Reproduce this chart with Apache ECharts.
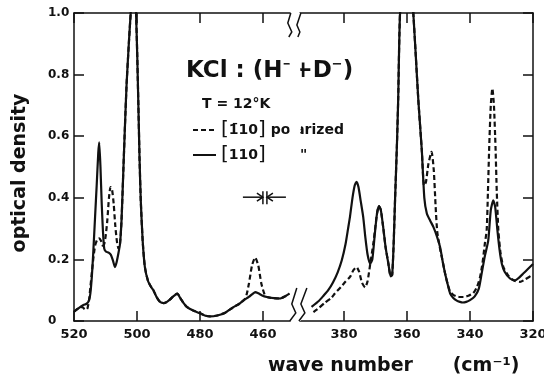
<!DOCTYPE html>
<html>
<head>
<meta charset="utf-8">
<script src="https://cdn.jsdelivr.net/npm/echarts@6/dist/echarts.min.js"></script>
<style>
  html, body { margin: 0; background: #fff; }
  #chart { width: 544px; height: 385px; }
</style>
</head>
<body>
<div id="chart"></div>
<script>
// [110] solid curve, left part (cm-1, optical density)
const solidLeftX = [520, 518.5, 517, 516, 515.3, 514.8, 514.3, 513.9, 513.3, 512.8, 512.3, 512.0, 511.6, 511.2, 510.8, 510.4,
  509.8, 509.0, 508.3, 507.6, 507.0, 506.5, 505.9, 505.4, 504.9, 504.3, 503.8, 503.3, 502.6, 502.0, 501.2, 500.3, 499.6,
  499.2, 498.8, 498.2, 497.5, 496.5, 495.5, 494.8, 493.8, 492.7, 491.5, 490.5, 489.5, 488.5, 487.2, 486.3, 485.2, 484.2,
  482, 480, 478.5, 476.8, 474.5, 472, 469.4, 467.5, 466.2, 464.5, 463.2, 462.5, 461.5, 460.3, 458.8, 456.5, 454.6, 453, 451.6]
const solidLeftY = [0.03, 0.042, 0.052, 0.056, 0.065, 0.09, 0.15, 0.22, 0.34, 0.44, 0.545, 0.58, 0.5, 0.38, 0.29, 0.235,
  0.225, 0.222, 0.215, 0.195, 0.175, 0.19, 0.22, 0.25, 0.33, 0.5, 0.64, 0.77, 0.9, 1.0, 1.12, 1.0, 0.717,
  0.53, 0.39, 0.26, 0.175, 0.13, 0.11, 0.1, 0.078, 0.062, 0.058, 0.062, 0.07, 0.08, 0.089, 0.075, 0.058, 0.046,
  0.033, 0.025, 0.018, 0.015, 0.018, 0.027, 0.045, 0.056, 0.067, 0.078, 0.089, 0.094, 0.09, 0.083, 0.078, 0.074, 0.073, 0.08, 0.089]

// [-110] polarized, dashed curve, left part
const dashedLeftX = [520, 518.5, 517.5, 516.8, 516.2, 515.7, 515.2, 514.8, 514.3, 513.9, 513.3, 512.6, 512.0, 511.4, 510.9,
  510.4, 509.9, 509.4, 508.9, 508.4, 507.9, 507.4, 506.9, 506.4, 505.9, 505.4, 504.9, 504.3, 503.8, 503.3, 502.6, 502.0,
  501.2, 500.3, 499.6, 499.2, 498.8, 498.2, 497.5, 496.5, 495.5, 494.8, 493.8, 492.7, 491.5, 490.5, 489.5, 488.5, 487.2,
  486.3, 485.2, 484.2, 482, 480, 478.5, 476.8, 474.5, 472, 469.4, 467.5, 465.6, 464.5, 463.5, 462.5, 461.5, 460.5, 459.4,
  458.8, 456.5, 454.6, 453, 451.6]
const dashedLeftY = [0.03, 0.042, 0.046, 0.04, 0.036, 0.042, 0.07, 0.11, 0.16, 0.2, 0.245, 0.265, 0.268, 0.26, 0.245,
  0.25, 0.28, 0.33, 0.4, 0.435, 0.425, 0.38, 0.31, 0.26, 0.235, 0.25, 0.33, 0.5, 0.64, 0.77, 0.9, 1.0,
  1.12, 1.0, 0.717, 0.53, 0.39, 0.26, 0.175, 0.13, 0.11, 0.1, 0.078, 0.062, 0.058, 0.062, 0.07, 0.08, 0.089,
  0.075, 0.058, 0.046, 0.033, 0.025, 0.018, 0.015, 0.018, 0.027, 0.045, 0.056, 0.073, 0.12, 0.18, 0.206, 0.18, 0.12, 0.083,
  0.078, 0.074, 0.073, 0.08, 0.089]

// right part (after the axis break)
const solidRightX = [390.3, 388, 386.5, 385, 383.5, 382, 380.7, 379.5, 378.7, 378.1, 377.3, 376.6, 376.0, 375.4, 374.7,
  373.9, 373.2, 372.5, 371.7, 371.0, 370.2, 369.5, 368.9, 368.3, 367.5, 366.8, 365.9, 365.2, 364.7, 364.2, 363.8, 363.2,
  362.8, 362.2, 360.1, 358.0, 357.2, 356.4, 355.3, 354.5, 353.7, 352.6, 351.6, 350.5, 349.5, 348.7, 347.9, 347.1, 346.3,
  345.3, 344.2, 343.2, 342.3, 341.2, 340.0, 338.5, 337.2, 336.3, 335.3, 334.2, 333.4, 332.6, 332.0, 331.3, 330.6, 329.9,
  329, 327.3, 325.7, 324.5, 323.1, 321.7, 320]
const solidRightY = [0.046, 0.065, 0.082, 0.1, 0.125, 0.158, 0.197, 0.25, 0.3, 0.338, 0.4, 0.44, 0.452, 0.435, 0.39,
  0.338, 0.27, 0.215, 0.186, 0.2, 0.284, 0.35, 0.373, 0.36, 0.3, 0.24, 0.186, 0.145, 0.15, 0.26, 0.39, 0.57,
  0.717, 1.0, 1.3, 1.0, 0.86, 0.717, 0.555, 0.4, 0.349, 0.325, 0.305, 0.275, 0.24, 0.195, 0.154, 0.12, 0.089,
  0.075, 0.066, 0.062, 0.06, 0.062, 0.068, 0.08, 0.105, 0.154, 0.21, 0.262, 0.36, 0.392, 0.37, 0.295, 0.23, 0.186,
  0.16, 0.138, 0.132, 0.14, 0.154, 0.168, 0.185]

const dashedRightX = [389.7, 388, 386, 384, 382.9, 381, 379.5, 378.1, 377, 376, 375.2, 374.3, 373.3, 372.5, 371.6, 370.7,
  370.0, 369.5, 368.9, 368.3, 367.5, 366.8, 365.9, 365.2, 364.7, 364.2, 363.8, 363.2, 362.8, 362.2, 360.1, 358.0, 357.2,
  356.4, 355.3, 354.6, 354.0, 353.2, 352.2, 351.5, 350.9, 350.4, 349.6, 348.7, 347.9, 347.1, 346.3, 345.3, 344.2, 343.2,
  342, 340.5, 339, 337.8, 336.8, 336, 335.3, 334.7, 334.3, 333.9, 333.4, 332.9, 332.4, 331.9, 331.5, 331.0, 330.3, 329.4,
  328, 326.2, 324.1, 322.5, 320.4, 320]
const dashedRightY = [0.029, 0.042, 0.06, 0.075, 0.089, 0.11, 0.128, 0.143, 0.165, 0.175, 0.16, 0.125, 0.109, 0.13, 0.19, 0.25,
  0.31, 0.35, 0.373, 0.36, 0.3, 0.24, 0.186, 0.145, 0.15, 0.26, 0.39, 0.57, 0.717, 1.0, 1.3, 1.0, 0.86,
  0.717, 0.555, 0.44, 0.45, 0.51, 0.549, 0.49, 0.37, 0.29, 0.24, 0.195, 0.154, 0.12, 0.095, 0.085, 0.08, 0.078,
  0.078, 0.082, 0.09, 0.11, 0.143, 0.19, 0.25, 0.295, 0.42, 0.565, 0.7, 0.755, 0.7, 0.565, 0.42, 0.295, 0.22, 0.175,
  0.15, 0.132, 0.127, 0.135, 0.148, 0.15]

const xTicks = [520, 500, 480, 460, 380, 360, 340, 320]
const breakStart = 394
const breakEnd = 451.5
const polName = '[1\u0304 10] polarized'
const refName = '[110]'

const font = 'DejaVu Sans'
const ink = '#111'
const pairs = (xs, ys) => xs.map((x, i) => [x, ys[i]])

const chart = echarts.init(document.getElementById('chart'))

const xBase = {
  type: 'value',
  min: 320,
  max: 520,
  interval: 20,
  inverse: true,
  breaks: [{ start: breakStart, end: breakEnd, gap: 3.2 }],
  breakArea: { show: true, itemStyle: { color: '#fff', borderWidth: 0, opacity: 1 }, zigzagAmplitude: 1 },
  breakLabelLayout: { moveOverlap: false },
  splitLine: { show: false },
  axisLine: { show: true, onZero: false, lineStyle: { color: ink, width: 1.5 } },
  axisTick: { inside: true, length: 10, customValues: xTicks, lineStyle: { color: ink, width: 1.5 } },
}
const yBase = {
  type: 'value',
  min: 0,
  max: 1,
  interval: 0.2,
  splitLine: { show: false },
  axisLine: { show: true, lineStyle: { color: ink, width: 1.5 } },
  axisTick: { inside: true, length: 10, lineStyle: { color: ink, width: 1.5 } },
}
const lineSeries = (name, xs, ys, dashed) => ({
  name,
  type: 'line',
  data: pairs(xs, ys),
  symbol: 'none',
  smooth: 0.2,
  lineStyle: { color: ink, width: 2.2, type: dashed ? [5, 3] : 'solid' },
  itemStyle: { color: ink },
})

chart.setOption({
  backgroundColor: '#fff',
  animation: false,
  grid: { left: 74, right: 11, top: 13, bottom: 64, outerBoundsMode: 'none' },
  title: [
    { text: '{t|KCl : (H}{s|\u2212}{t|+D}{s|\u2212}{t|)}', left: 186, top: 58, padding: 0,
      textStyle: { fontFamily: font, fontSize: 23, fontWeight: 'bold', color: ink,
        rich: {
          t: { fontFamily: font, fontSize: 23, fontWeight: 'bold', color: ink, lineHeight: 26 },
          s: { fontFamily: font, fontSize: 13, fontWeight: 'bold', color: ink, lineHeight: 13, verticalAlign: 'top' },
        } } },
    { text: 'T = 12\u00B0K', left: 202, top: 97, padding: 0,
      textStyle: { fontFamily: font, fontSize: 14, fontWeight: 'bold', color: ink } },
    { text: 'wave number      (cm\u207B\u00B9)', left: 268, top: 357, padding: 0,
      textStyle: { fontFamily: font, fontSize: 19, fontWeight: 'bold', color: ink } },
  ],
  legend: {
    data: [polName, refName],
    orient: 'vertical',
    left: 192,
    top: 120,
    padding: 0,
    itemWidth: 23,
    itemHeight: 14,
    itemGap: 5,
    itemStyle: { opacity: 0 },
    formatter: (name) => name === polName
      ? '{br|[}1\u030410{br|]} polarized'
      : '{br|[}110{br|]}       "',
    textStyle: {
      fontFamily: font, fontSize: 14, fontWeight: 'bold', color: ink, lineHeight: 20,
      rich: { br: { fontFamily: font, fontSize: 20, fontWeight: 'normal', color: ink, lineHeight: 20 } },
    },
  },
  xAxis: [
    { ...xBase, position: 'bottom',
      axisLabel: { margin: 7, customValues: xTicks, fontFamily: font, fontSize: 13, fontWeight: 'bold', color: ink } },
    { ...xBase, position: 'top', axisLabel: { show: false } },
  ],
  yAxis: [
    { ...yBase, position: 'left',
      name: 'optical density', nameLocation: 'middle', nameGap: 44,
      nameTextStyle: { fontFamily: font, fontSize: 19, fontWeight: 'bold', color: ink, padding: [0, 12, 0, 0] },
      axisLabel: { margin: 26, align: 'left', fontFamily: font, fontSize: 12, fontWeight: 'bold', color: ink,
        formatter: (v) => (v === 0 ? '0' : v.toFixed(1)) } },
    { ...yBase, position: 'right', axisLabel: { show: false } },
  ],
  series: [
    lineSeries(polName, dashedLeftX, dashedLeftY, true),
    lineSeries(polName, dashedRightX, dashedRightY, true),
    lineSeries(refName, solidLeftX, solidLeftY, false),
    lineSeries(refName, solidRightX, solidRightY, false),
  ],
})

// break marks and the spectral slit width marker, placed from axis values
const xL = chart.convertToPixel({ xAxisIndex: 0 }, breakEnd)
const xR = chart.convertToPixel({ xAxisIndex: 0 }, breakStart)
const yTop = chart.convertToPixel({ yAxisIndex: 0 }, 1)
const yBot = chart.convertToPixel({ yAxisIndex: 0 }, 0)
const [sx, sy] = chart.convertToPixel({ xAxisIndex: 0, yAxisIndex: 0 }, [459.4, 0.402])

const stroke = { stroke: ink, lineWidth: 1.5, fill: null }
const poly = (points) => ({ type: 'polyline', shape: { points }, style: stroke, z: 200 })

chart.setOption({
  graphic: [
    poly([[xL + 1, yTop], [xL - 2, yTop + 10], [xL + 2, yTop + 19], [xL - 1, yTop + 24]]),
    poly([[xR + 1, yTop], [xR - 3, yTop + 12], [xR, yTop + 19], [xR - 2, yTop + 24]]),
    poly([[xL + 7, yBot - 33], [xL + 2, yBot - 17], [xL + 6, yBot - 8], [xL, yBot]]),
    poly([[xR + 7, yBot - 33], [xR + 1, yBot - 17], [xR + 5, yBot - 8], [xR - 1, yBot]]),
    poly([[sx - 22, sy], [sx - 2, sy]]),
    poly([[sx - 8, sy - 4], [sx - 2, sy], [sx - 8, sy + 4]]),
    poly([[sx - 2, sy - 6], [sx - 2, sy + 7]]),
    poly([[sx + 2, sy - 6], [sx + 2, sy + 7]]),
    poly([[sx + 2, sy], [sx + 21, sy]]),
    poly([[sx + 8, sy - 4], [sx + 2, sy], [sx + 8, sy + 4]]),
  ],
})

window.addEventListener('resize', () => chart.resize())
</script>
</body>
</html>
